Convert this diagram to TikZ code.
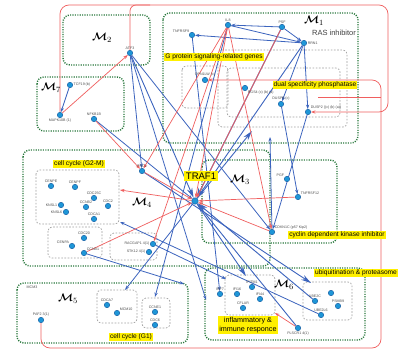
\documentclass[tikz,border=0pt]{standalone}
\usepackage{fontspec}
\usepackage{bm}
\setmainfont{Liberation Sans}
\usetikzlibrary{arrows.meta}
\definecolor{genefill}{RGB}{30,150,215}
\definecolor{geneedge}{RGB}{20,90,160}
\definecolor{linkblue}{RGB}{60,100,190}
\definecolor{linkred}{RGB}{240,95,95}
\definecolor{modgreen}{RGB}{40,120,60}
\definecolor{hl}{RGB}{255,240,0}
\pgfdeclarelayer{bg}
\pgfsetlayers{bg,main}
\tikzset{
  gene/.style={circle, fill=genefill, draw=geneedge, line width=0.4pt, inner sep=0pt, minimum size=5.5pt},
  glabel/.style={font=\fontsize{3.6}{4}\selectfont, text=black!70, inner sep=0.6pt},
  module/.style={draw=modgreen, line width=1.4pt, dash pattern=on 1.1pt off 1.3pt, rounded corners=7pt},
  group/.style={draw=gray!75, line width=0.7pt, dash pattern=on 1.6pt off 1.6pt, rounded corners=4pt},
  mlabel/.style={font=\fontsize{11}{11}\selectfont, inner sep=0pt},
  tag/.style={fill=hl, font=\fontsize{6.6}{7.4}\selectfont, inner sep=1.2pt},
  blink/.style={draw=linkblue, line width=0.8pt, -{Stealth[length=4.5pt,width=3.2pt]}},
  bigb/.style={draw=linkblue, line width=0.9pt, -{Stealth[length=10pt,width=5.5pt]}},
  rlink/.style={draw=linkred, line width=0.7pt, -{Stealth[length=4.5pt,width=3.2pt]}},
  rline/.style={draw=linkred, line width=0.7pt},
}
\newcommand{\modname}[1]{$\bm{\mathcal{M}}_{#1}$}
\begin{document}
\begin{tikzpicture}[x=1pt,y=-1pt]
\useasboundingbox (0,0) rectangle (405,353);

% ---------- genes ----------
% M2 / M7
\node[gene,label={[glabel]above:ATF3}] (atf) at (130,53) {};
\node[gene,label={[glabel]right:TCF19 (b)}] (tcf) at (70,85) {};
\node[gene,label={[glabel]below:MAPK10B (1)}] (mapk) at (60,115) {};
\node[gene,label={[glabel]above:NFKB1B}] (nfk) at (94,119) {};
% M1
\node[gene,label={[glabel]above:IL8}] (il8) at (228,25) {};
\node[gene,label={[glabel]above left:TNFRSF9}] (tnf9) at (192,35) {};
\node[gene,label={[glabel]above:PSF}] (psf) at (282,27) {};
\node[gene,label={[glabel]right:RRN1}] (rrn) at (304,43) {};
\node[gene,label={[glabel]above:OPN1LW (c)}] (opn) at (205,80) {};
\node[gene,label={[glabel]below right:RGS4 (c) (b) (a)}] (rgs) at (245,88) {};
\node[gene,label={[glabel]above:DUSP6 (c)}] (dsix) at (281,104) {};
\node[gene,label={[glabel]above right:DUSP2 ((c) (b) (a))}] (dtwo) at (308,112) {};
% M3
\node[gene,label={[glabel]above left:PGF}] (pgf) at (287,179) {};
\node[gene,label={[glabel]above right:TNFRSF12}] (tntw) at (298,197) {};
\node[gene,label={[glabel]above right:CDKN1C (p57 Kip2)}] (cdkn) at (272,232) {};
% M4
\node[gene,label={[glabel]above:PRC1}] (prc) at (142,171) {};
\node[gene,label={[glabel]above:CENPE}] (cenpe) at (51,186) {};
\node[gene,label={[glabel]above:CENPF}] (cenpf) at (75,187) {};
\node[gene,label={[glabel]above:CDC25C}] (cdcq) at (94,198) {};
\node[gene,label={[glabel]above:CCNB2}] (ccnbb) at (86,207) {};
\node[gene,label={[glabel]above:CDC2}] (cdcb) at (108,206) {};
\node[gene,label={[glabel]left:KNSL1}] (knsa) at (61,205) {};
\node[gene,label={[glabel]left:KNSL6}] (knsf) at (66,212) {};
\node[gene,label={[glabel]above:CDCA1}] (cdca) at (94,219) {};
\node[gene,label={[glabel]above left:CENPA}] (cenpa) at (72,246) {};
\node[gene,label={[glabel]above:CDC20}] (cdct) at (84,238) {};
\node[gene,label={[glabel]above right:CCNB1}] (ccnba) at (84,253) {};
\node[gene,label={[glabel]left:RACGAP1 4(1)}] (racgap) at (153,244) {};
\node[gene,label={[glabel]left:STK12 4(1)}] (stk) at (149,252) {};
\node[gene,minimum size=6.5pt] (hub) at (195,201) {};
% M5
\node[gene,label={[glabel]above:PAF2 3(1)}] (paf) at (41,320) {};
\node[gene,label={[glabel]above:CDCA7}] (cdcs) at (107,305) {};
\node[gene,label={[glabel]above right:MCM10}] (mcm) at (117,313) {};
\node[gene,label={[glabel]above:CCNE1}] (ccne) at (155,312) {};
\node[gene,label={[glabel]above:CDC6}] (cdcsix) at (155,325) {};
% M6
\node[gene,label={[glabel]above:IRF7}] (irf) at (220,294) {};
\node[gene,label={[glabel]above:IFITM1}] (ifitm) at (252,287) {};
\node[gene,label={[glabel]above:IFI16}] (ifis) at (237,294) {};
\node[gene,label={[glabel]above:IFI44}] (ififf) at (260,299) {};
\node[gene,label={[glabel]above:CFLAR}] (cflar) at (243,308) {};
\node[gene,label={[glabel]above:UBE2C}] (ubec) at (315,301) {};
\node[gene] (psmbe) at (331,293) {};
\node[gene,label={[glabel]above:PSMB9}] (psmbn) at (338,306) {};
\node[gene,label={[glabel]above:UBE2L6}] (ubel) at (321,315) {};
\node[gene,label={[glabel]below:PLSCR1 4(1)}] (plscr) at (298,328) {};

% ---------- edge end points on group borders ----------
\coordinate (cMoneB) at (252,131);
\coordinate (cMoneC) at (270,137);
\coordinate (cCCr) at (120,190);
\coordinate (cCCb) at (120,222);
\coordinate (cInf) at (246,276);
\coordinate (cInfTL) at (226,279);
\coordinate (cInfC) at (275,313);
\coordinate (cUbi) at (311,283);
\coordinate (cMfiveA) at (125,290);
\coordinate (cMfiveB) at (155,297);
\coordinate (cMfiveR) at (184,284);
\coordinate (cMsixL) at (206,300);
\coordinate (cStub) at (318,97);

\begin{pgfonlayer}{bg}
\fill[white] (0,0) rectangle (405,353);
% modules
\draw[module] (63,15) rectangle (150,65);
\draw[module] (37,77) rectangle (124,131);
\draw[module] (163,13) rectangle (358,143);
\draw[module] (23,150) rectangle (270,266);
\draw[module] (202,160) rectangle (337,243);
\draw[module] (17,283) rectangle (188,343);
\draw[module] (205,268) rectangle (365,340);
% gene groups
\draw[group] (182,66) rectangle (228,108);
\draw[group] (227,68) rectangle (340,117);
\draw[group] (218,50) rectangle (347,127);
\draw[group] (36,170) rectangle (119,224);
\draw[group] (48,227) rectangle (102,258);
\draw[group] (110,233) rectangle (157,260);
\draw[group] (97,290) rectangle (137,323);
\draw[group] (142,298) rectangle (170,328);
\draw[group] (225,275) rectangle (275,315);
\draw[group] (303,282) rectangle (352,320);

% long red feedback loops
\draw[rlink, rounded corners=9pt] (mapk) -- (60,5) -- (388,5) -- (388,112) -- (dtwo);
\draw[rline, rounded corners=6pt] (atf.north) |- (150,5);
\draw[rlink, rounded corners=9pt] (paf) -- (41,348) -- (381,348) -- (381,80) -- (opn);
\draw[rline] (cStub) -- (381,97);

% blue links
\draw[blink] (tcf) -- (mapk);
\draw[bigb] (atf) -- (hub);
\draw[blink] (atf) -- (prc);
\draw[blink] (atf) -- (cMsixL);
\draw[blink] (atf) -- (cdkn);
\draw[blink] (nfk) -- (hub);
\draw[bigb] (rrn) -- (hub);
\draw[bigb] (psf) -- (hub);
\draw[bigb] (hub) -- (cMoneB);
\draw[blink] (rrn) -- (tnf9);
\draw[blink] (il8) -- (rrn);
\draw[blink] (psf) -- (rrn);
\draw[blink] (psf) -- (il8);
\draw[blink] (rrn) -- (dtwo);
\draw[blink] (rrn) -- (dsix);
\draw[blink] (dsix) -- (tntw);
\draw[blink] (dtwo) -- (cdkn);
\draw[blink] (cdkn) -- (cMoneC);
\draw[bigb] (ubec) -- (hub);
\draw[bigb] (plscr) -- (hub);
\draw[bigb] (hub) -- (cInf);
\draw[bigb] (prc) -- (cUbi);
\draw[blink] (hub) -- (cMfiveA);
\draw[blink] (il8) -- (cMfiveB);
\draw[blink] (ubel) -- (cCCb);
\draw[blink] (tnf9) -- (irf);
\draw[blink] (racgap) -- (cInfTL);
\draw[blink] (ccnba) -- (cMfiveR);

% red links
\draw[rlink] (mapk) -- (atf);
\draw[rlink] (nfk) -- (prc);
\draw[rlink] (prc) -- (hub);
\draw[rlink] (il8) -- (prc);
\draw[rlink] (il8) -- (hub);
\draw[rlink] (il8) -- (racgap);
\draw[rlink] (il8) -- (cdkn);
\draw[rlink] (psf) -- (hub);
\draw[rlink] (tntw) -- (hub);
\draw[rlink] (cdkn) -- (hub);
\draw[rlink] (hub) -- (cCCr);
\draw[rlink] (ccnba) -- (hub);
\draw[rlink] (plscr) -- (cInfC);
\end{pgfonlayer}

% ---------- module names ----------
\node[mlabel] (mtwo) at (102,38) {\modname{2}};
\node[mlabel] (mseven) at (51,88) {\modname{7}};
\node[mlabel] (mone) at (314,21) {\modname{1}};
\node[font=\fontsize{7.5}{8}\selectfont, text=black!75, inner sep=0pt] (ras) at (334,33) {RAS inhibitor};
\node[mlabel] (mfour) at (142,203) {\modname{4}};
\node[mlabel] (mthree) at (240,180) {\modname{3}};
\node[mlabel] (mfive) at (68,299) {\modname{5}};
\node[mlabel] (msix) at (284,285) {\modname{6}};
\node[glabel] (mcmthree) at (32,287) {MCM3};

% ---------- highlighted annotations ----------
\node[tag] (tg) at (214,57) {G protein signaling-related genes};
\node[tag] (td) at (315,85) {dual specificity phosphatase};
\node[tag] (tc) at (337,235) {cyclin dependent kinase inhibitor};
\node[tag, font=\fontsize{9.5}{10}\selectfont, inner sep=2pt] (tt) at (201,176) {TRAF1};
\node[tag] (tgm) at (79,164) {cell cycle (G2-M)};
\node[tag] (tgone) at (131,337) {cell cycle (G1)};
\node[tag, align=center, font=\fontsize{7.2}{8.4}\selectfont] (ti) at (248,325) {inflammatory \&\\immune responce};
\node[tag] (tu) at (356,273) {ubiquitination \& proteasome};
\end{tikzpicture}
\end{document}
